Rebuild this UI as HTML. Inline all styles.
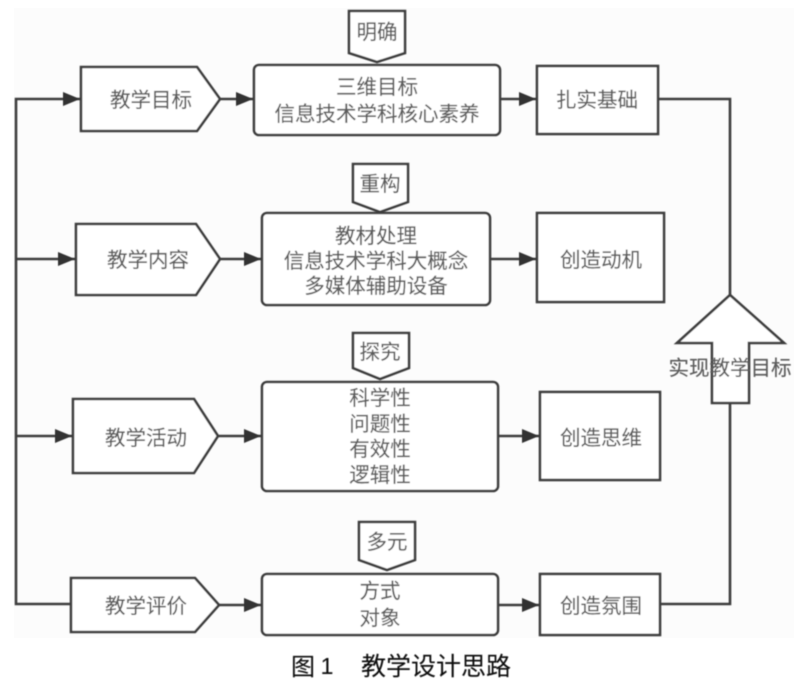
<!DOCTYPE html>
<html>
<head>
<meta charset="utf-8">
<style>
html,body{margin:0;padding:0;background:#fff;}
svg{display:block;}
text{font-family:"Liberation Sans","Noto Sans CJK SC",sans-serif;font-size:20.5px;fill:#5c5c5c;stroke:#5c5c5c;stroke-width:0.15;text-anchor:middle;}
.s{fill:#fff;stroke:#3c3c3c;stroke-width:2.6;stroke-linejoin:miter;}
.l{fill:none;stroke:#3c3c3c;stroke-width:2.6;}
.h{fill:#333;stroke:none;}
.b{filter:url(#bl);}
.c{font-size:25px;fill:#111;stroke:#111;stroke-width:0.1;}
</style>
</head>
<body>
<svg width="800" height="682" viewBox="0 0 800 682" xmlns="http://www.w3.org/2000/svg">
<defs><filter id="bl" filterUnits="userSpaceOnUse" x="0" y="0" width="800" height="682"><feGaussianBlur stdDeviation="0.5"/></filter></defs>
<rect x="14" y="8" width="780" height="630" fill="#fcfcfc"/>
<g class="b">
<!-- left trunk and connectors -->
<path class="l" d="M80 99H16V604H71"/>
<path class="l" d="M16 259H75M16 436H72"/>
<path class="l" d="M220 99H253M220 259H261M218 436H261M219 605H261"/>
<path class="l" d="M500 99H536M490 259H536M498 436H539M498 605H539"/>
<path class="l" d="M658 99H730V295M660 604H730V403"/>
<!-- arrowheads -->
<path class="h" d="M63 92L80 99L63 106Z"/>
<path class="h" d="M58 252L75 259L58 266Z"/>
<path class="h" d="M55 429L72 436L55 443Z"/>
<path class="h" d="M236 92L253 99L236 106Z"/>
<path class="h" d="M244 252L261 259L244 266Z"/>
<path class="h" d="M244 429L261 436L244 443Z"/>
<path class="h" d="M244 598L261 605L244 612Z"/>
<path class="h" d="M519 92L536 99L519 106Z"/>
<path class="h" d="M519 252L536 259L519 266Z"/>
<path class="h" d="M522 429L539 436L522 443Z"/>
<path class="h" d="M522 598L539 605L522 612Z"/>
<!-- left pentagons -->
<path class="s" d="M81 67H197L220 99L197 131H81Z"/>
<path class="s" d="M76 224H196L220 259L196 295H76Z"/>
<path class="s" d="M73 399H194L218 436L194 473H73Z"/>
<path class="s" d="M71 578H195L219 605L195 632H71Z"/>
<!-- rounded boxes -->
<rect class="s" x="254" y="65" width="246" height="70" rx="5"/>
<rect class="s" x="262" y="213" width="228" height="92" rx="5"/>
<rect class="s" x="262" y="382" width="236" height="109" rx="5"/>
<rect class="s" x="262" y="574" width="236" height="61" rx="5"/>
<!-- right boxes -->
<rect class="s" x="537" y="66" width="121" height="68"/>
<rect class="s" x="537" y="213" width="127" height="89"/>
<rect class="s" x="540" y="392" width="120" height="88"/>
<rect class="s" x="540" y="574" width="120" height="61"/>
<!-- top tags -->
<path class="s" d="M349 11H405V53L377 62L349 53Z"/>
<path class="s" d="M353 164H408V202L380 212L353 202Z"/>
<path class="s" d="M353 333H409V368L380 379L353 368Z"/>
<path class="s" d="M359 522H415V560L387 570L359 560Z"/>
<!-- big up arrow -->
<path class="s" d="M730 295L784 343H749V403H712V343H677Z"/>
<!-- text -->
<text x="151" y="107">教学目标</text>
<text x="148" y="267">教学内容</text>
<text x="146" y="445">教学活动</text>
<text x="146" y="613">教学评价</text>
<text x="377" y="39">明确</text>
<text x="380" y="191">重构</text>
<text x="380" y="359">探究</text>
<text x="387" y="549">多元</text>
<text x="377" y="94">三维目标</text>
<text x="377" y="121">信息技术学科核心素养</text>
<text x="376" y="243">教材处理</text>
<text x="376" y="268">信息技术学科大概念</text>
<text x="376" y="293">多媒体辅助设备</text>
<text x="380" y="405">科学性</text>
<text x="380" y="431">问题性</text>
<text x="380" y="456">有效性</text>
<text x="380" y="482">逻辑性</text>
<text x="380" y="598">方式</text>
<text x="380" y="625">对象</text>
<text x="597" y="107">扎实基础</text>
<text x="601" y="267">创造动机</text>
<text x="601" y="445">创造思维</text>
<text x="601" y="613">创造氛围</text>
<text x="730" y="375">实现教学目标</text>
<text x="303" y="675" class="c" style="font-size:24px">图</text>
<text x="327" y="674" class="c" style="font-size:23px">1</text>
<text x="436" y="675" class="c">教学设计思路</text>
</g>
</svg>
</body>
</html>
